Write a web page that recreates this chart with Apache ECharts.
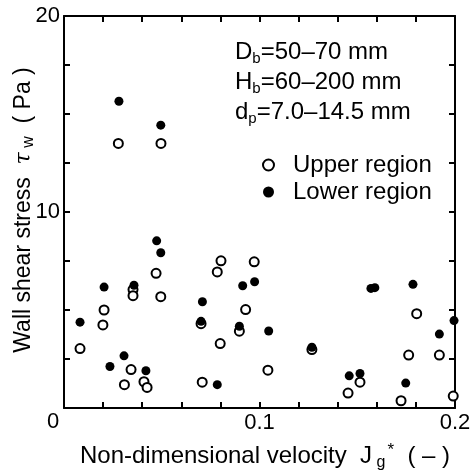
<!DOCTYPE html>
<html>
<head>
<meta charset="utf-8">
<script src="https://cdn.jsdelivr.net/npm/echarts@6/dist/echarts.min.js"></script>
<style>
  html, body { margin: 0; padding: 0; background: #fff; }
  #chart { width: 474px; height: 471px; }
</style>
</head>
<body>
<div id="chart"></div>
<script>
// upper region (open circles): [Jg*, tau_w]
const upperRegion = [
  [0.0278, 13.5], [0.0496, 13.5], [0.0471, 6.87], [0.0353, 6.04], [0.0353, 5.73],
  [0.0495, 5.68], [0.0205, 5.0], [0.0199, 4.24], [0.0082, 3.03], [0.0343, 1.96],
  [0.0309, 1.19], [0.0409, 1.34], [0.0425, 1.05], [0.0803, 7.51], [0.0973, 7.46],
  [0.0784, 6.94], [0.0929, 5.02], [0.0701, 4.3], [0.0897, 3.92], [0.1268, 2.98],
  [0.0799, 3.29], [0.1043, 1.93], [0.0707, 1.32], [0.1804, 4.81], [0.1763, 2.70],
  [0.1920, 2.70], [0.1514, 1.32], [0.1453, 0.76], [0.1724, 0.37], [0.1991, 0.61]
];
// lower region (filled circles)
const lowerRegion = [
  [0.0281, 15.65], [0.0495, 14.43], [0.0474, 8.53], [0.0495, 7.92], [0.0205, 6.17],
  [0.0358, 6.26], [0.0082, 4.38], [0.0307, 2.66], [0.0235, 2.12], [0.0419, 1.90],
  [0.0914, 6.24], [0.0975, 6.44], [0.0708, 5.42], [0.0701, 4.42], [0.0897, 4.17],
  [0.1047, 3.93], [0.1268, 3.10], [0.0784, 1.19], [0.1570, 6.10], [0.1590, 6.14],
  [0.1785, 6.31], [0.1995, 4.46], [0.1920, 3.77], [0.1459, 1.64], [0.1514, 1.76],
  [0.1748, 1.27]
];
const xLabels = ["0.1", "0.2"];
const yLabels = ["10", "20"];

const font = "Liberation Sans, Arial, sans-serif";

const chart = echarts.init(document.getElementById("chart"));

// frame axes on top / right: line + inward ticks, no labels
const frameAxis = {
  axisLine: { show: true, onZero: false, lineStyle: { color: "#000", width: 2 } },
  axisTick: { show: true, inside: true, length: 6, lineStyle: { color: "#000", width: 2 } },
  axisLabel: { show: false },
  splitLine: { show: false }
};

chart.setOption({
  animation: false,
  grid: { left: 64, top: 16, right: 19, bottom: 63, outerBoundsMode: "none" },
  xAxis: [
    {
      type: "value", min: 0, max: 0.2, interval: 0.02,
      axisLine: { onZero: false, lineStyle: { color: "#000", width: 2 } },
      axisTick: { inside: true, length: 6, lineStyle: { color: "#000", width: 2 } },
      axisLabel: {
        color: "#000", fontSize: 22, fontFamily: font, margin: 4,
        formatter: v => {
          const s = String(Math.round(v * 100) / 100);
          return xLabels.includes(s) ? s : "";
        }
      },
      splitLine: { show: false }
    },
    Object.assign({ type: "value", min: 0, max: 0.2, interval: 0.02, position: "top" }, frameAxis)
  ],
  yAxis: [
    {
      type: "value", min: 0, max: 20, interval: 2.5,
      axisLine: { show: true, onZero: false, lineStyle: { color: "#000", width: 2 } },
      axisTick: { show: true, inside: true, length: 6, lineStyle: { color: "#000", width: 2 } },
      axisLabel: {
        color: "#000", fontSize: 22, fontFamily: font, margin: 4,
        formatter: v => (yLabels.includes(String(v)) ? String(v) : "")
      },
      splitLine: { show: false }
    },
    Object.assign({ type: "value", min: 0, max: 20, interval: 2.5, position: "right" }, frameAxis)
  ],
  legend: {
    orient: "vertical", left: 257, top: 148, itemGap: 3,
    itemWidth: 11, itemHeight: 11,
    textStyle: { fontSize: 24, fontFamily: font, color: "#000", padding: [0, 0, 0, 14] },
    data: ["Upper region", "Lower region"]
  },
  graphic: [
    {
      type: "text", x: 53, y: 422,
      style: { text: "0", fontSize: 22, fontFamily: font, fill: "#000", align: "center", verticalAlign: "middle" }
    },
    {
      type: "text", left: 235, top: 39,
      style: {
        text: "{n|D}{s|b}{n|=50–70 mm}\n{n|H}{s|b}{n|=60–200 mm}\n{n|d}{s|p}{n|=7.0–14.5 mm}",
        rich: {
          n: { fontSize: 24, fontFamily: font, fill: "#000", lineHeight: 30 },
          s: { fontSize: 15, fontFamily: font, fill: "#000", padding: [12, 0, 0, 0], lineHeight: 30 }
        }
      }
    },
    {
      // x axis title
      type: "text", x: 265, y: 456,
      style: {
        text: "{a|Non-dimensional velocity  J}{sub| g}{sup|*}{a|  ( – )}",
        align: "center", verticalAlign: "middle",
        rich: {
          a: { fontSize: 24, fontFamily: font, fill: "#000", lineHeight: 28 },
          sub: { fontSize: 16, fontFamily: font, fill: "#000", padding: [14, 0, 0, 0], lineHeight: 28 },
          sup: { fontSize: 17, fontFamily: font, fill: "#000", padding: [0, 0, 12, 2], lineHeight: 28 }
        }
      }
    },
    {
      // y axis title
      type: "text", x: 24, y: 210, rotation: Math.PI / 2,
      style: {
        text: "{a|Wall shear stress  }{t|τ}{s| w}{a|  ( Pa )}",
        align: "center", verticalAlign: "middle",
        rich: {
          a: { fontSize: 23, fontFamily: font, fill: "#000", lineHeight: 28 },
          t: { fontSize: 22, fontFamily: "DejaVu Serif, serif", fontStyle: "italic", fill: "#000", lineHeight: 28 },
          s: { fontSize: 16, fontFamily: font, fill: "#000", padding: [10, 0, 0, 0], lineHeight: 28 }
        }
      }
    }
  ],
  series: [
    {
      name: "Upper region", type: "scatter", xAxisIndex: 0, yAxisIndex: 0,
      data: upperRegion, symbol: "circle", symbolSize: 9,
      itemStyle: { color: "#fff", borderColor: "#000", borderWidth: 2, opacity: 1 }
    },
    {
      name: "Lower region", type: "scatter", xAxisIndex: 0, yAxisIndex: 0,
      data: lowerRegion, symbol: "circle", symbolSize: 9,
      itemStyle: { color: "#000", opacity: 1 }
    }
  ]
});
</script>
</body>
</html>
